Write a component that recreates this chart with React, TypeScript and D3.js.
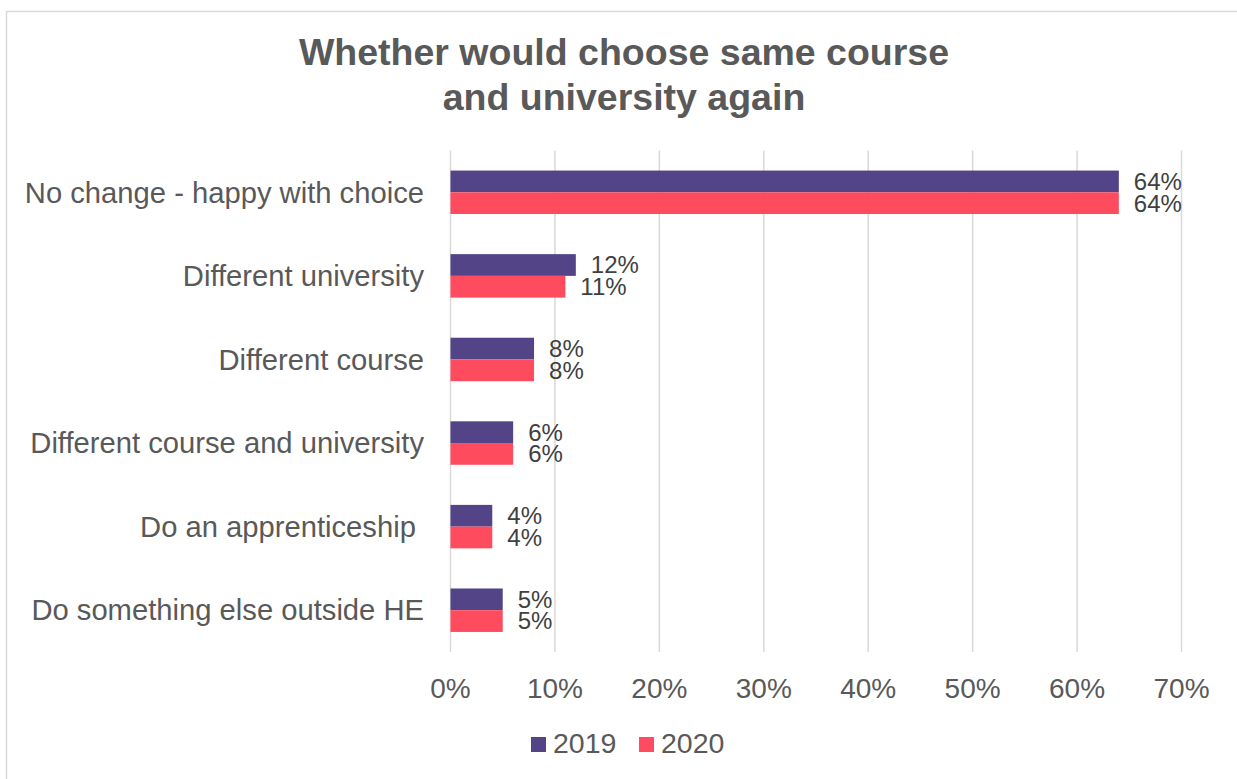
import React from "react";
import * as d3 from "d3";

const categories = [
  "No change - happy with choice",
  "Different university",
  "Different course",
  "Different course and university",
  "Do an apprenticeship ",
  "Do something else outside HE",
];
const series2019 = [64, 12, 8, 6, 4, 5];
const series2020 = [64, 11, 8, 6, 4, 5];
const seriesNames = ["2019", "2020"];
const xTicks = [0, 10, 20, 30, 40, 50, 60, 70];

const colors = ["#524486", "#ff4b5e"];
const font = "'Liberation Sans', Arial, sans-serif";

const App: React.FC = () => {
  const width = 1237;
  const height = 779;

  const x = d3.scaleLinear().domain([0, 70]).range([450.5, 1181.5]);
  const y = d3
    .scaleBand()
    .domain(categories)
    .range([150.5, 652])
    .paddingInner(0.48)
    .paddingOuter(0.24);
  const sub = d3.scaleBand().domain(seriesNames).range([0, y.bandwidth()]);

  const values = [series2019, series2020];

  return (
    <svg
      width={width}
      height={height}
      style={{ position: "absolute", left: 0, top: 0, background: "#fff" }}
      fontFamily={font}
    >
      <rect x={6.5} y={11.5} width={1234} height={800} fill="#fff" stroke="#d9d9d9" strokeWidth={1.5} />

      <text textAnchor="middle" fontWeight="bold" fontSize={37.5} fill="#595959">
        <tspan x={624} y={65}>Whether would choose same course</tspan>
        <tspan x={624} y={110}>and university again</tspan>
      </text>

      {/* gridlines */}
      {xTicks.map((t) => (
        <line key={t} x1={x(t)} x2={x(t)} y1={150.5} y2={652} stroke="#d9d9d9" strokeWidth={1.5} />
      ))}

      {/* bars */}
      {seriesNames.map((s, si) =>
        categories.map((c, ci) => (
          <rect
            key={s + c}
            x={x(0)}
            y={y(c)! + sub(s)!}
            width={x(values[si][ci]) - x(0)}
            height={sub.bandwidth()}
            fill={colors[si]}
          />
        ))
      )}

      {/* data labels */}
      {seriesNames.map((s, si) =>
        categories.map((c, ci) => (
          <text
            key={"l" + s + c}
            x={x(values[si][ci]) + 15}
            y={y(c)! + sub(s)! + sub.bandwidth() / 2}
            dy="0.35em"
            fontSize={24}
            fill="#404040"
          >
            {values[si][ci]}%
          </text>
        ))
      )}

      {/* category labels */}
      {categories.map((c) => (
        <text
          key={"c" + c}
          x={424}
          y={y(c)! + y.bandwidth() / 2}
          dy="0.35em"
          textAnchor="end"
          fontSize={29.2}
          fill="#595959"
          style={{ whiteSpace: "pre" }}
        >
          {c}
        </text>
      ))}

      {/* x tick labels */}
      {xTicks.map((t) => (
        <text key={"t" + t} x={x(t)} y={698} textAnchor="middle" fontSize={28} fill="#595959">
          {t}%
        </text>
      ))}

      {/* legend */}
      {seriesNames.map((s, si) => (
        <g key={"lg" + s} transform={`translate(${531 + si * 108},737)`}>
          <rect width={15} height={15} fill={colors[si]} />
          <text x={22} y={16} fontSize={28.5} fill="#595959">
            {s}
          </text>
        </g>
      ))}
    </svg>
  );
};

export default App;
